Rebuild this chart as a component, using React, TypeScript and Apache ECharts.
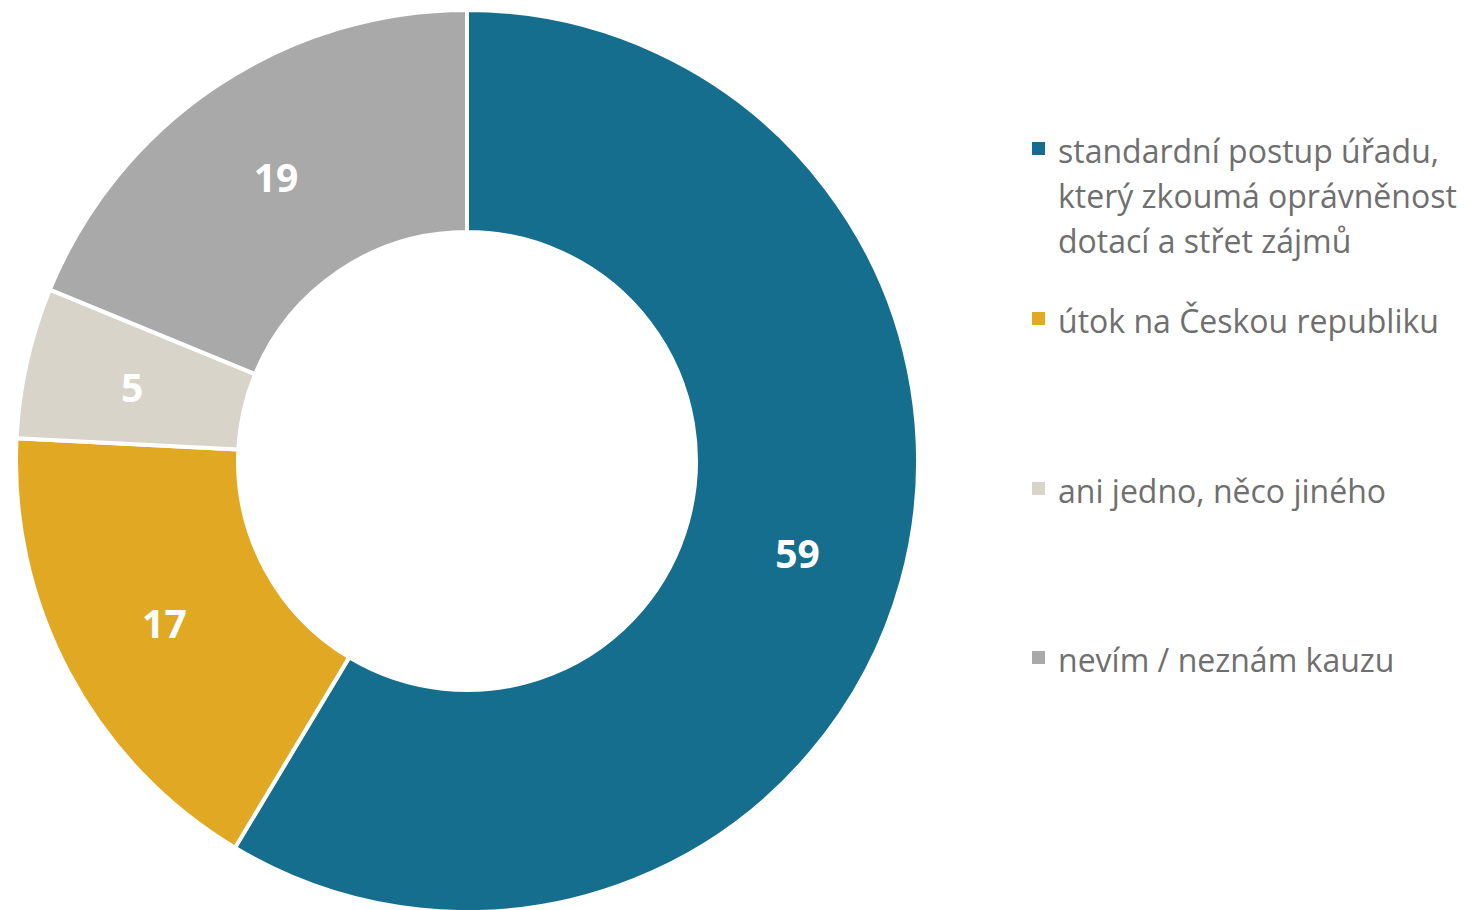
import React, { useEffect, useRef } from "react";
import * as echarts from "echarts";

const categories = [
  "standardní postup úřadu, který zkoumá oprávněnost dotací a střet zájmů",
  "útok na Českou republiku",
  "ani jedno, něco jiného",
  "nevím / neznám kauzu",
];
const legendLines = [
  ["standardní postup úřadu,", "který zkoumá oprávněnost", "dotací a střet zájmů"],
  ["útok na Českou republiku"],
  ["ani jedno, něco jiného"],
  ["nevím / neznám kauzu"],
];
const values = [58.6, 17.2, 5.4, 18.8];
const colors = ["#156E8D", "#E1A823", "#D8D4CA", "#A9A9A9"];

export default function App() {
  const ref = useRef<HTMLDivElement>(null);
  useEffect(() => {
    const chart = echarts.init(ref.current!, null, { renderer: "svg" });
    const font = "'Open Sans', 'Noto Sans', sans-serif";
    const graphic: any[] = [];
    const firstY = [150, 320, 490, 659];
    legendLines.forEach((lines, i) => {
      graphic.push({
        type: "rect",
        shape: { x: 1032, y: firstY[i] - 8, width: 13, height: 13 },
        style: { fill: colors[i] },
      });
      lines.forEach((ln, j) => {
        graphic.push({
          type: "text",
          x: 1058,
          y: firstY[i] + j * 45,
          style: {
            text: ln,
            fill: "#6F6F6F",
            font: `32px ${font}`,
            verticalAlign: "middle",
          },
        });
      });
    });
    chart.setOption({
      animation: false,
      backgroundColor: "#ffffff",
      graphic,
      series: [
        {
          type: "pie",
          center: [467, 461],
          radius: [229, 451],
          startAngle: 90,
          clockwise: true,
          data: categories.map((c, i) => ({
            name: c,
            value: values[i],
            itemStyle: { color: colors[i] },
          })),
          itemStyle: { borderColor: "#ffffff", borderWidth: 4 },
          label: {
            show: true,
            position: "inside",
            formatter: (p: any) => String(Math.round(p.value)),
            color: "#ffffff",
            fontFamily: font,
            fontWeight: "bold",
            fontSize: 39,
          },
          labelLine: { show: false },
          emphasis: { disabled: true },
        },
      ],
    });
    return () => chart.dispose();
  }, []);
  return (
    <div
      ref={ref}
      style={{ position: "absolute", left: 0, top: 0, width: 1468, height: 910 }}
    />
  );
}
